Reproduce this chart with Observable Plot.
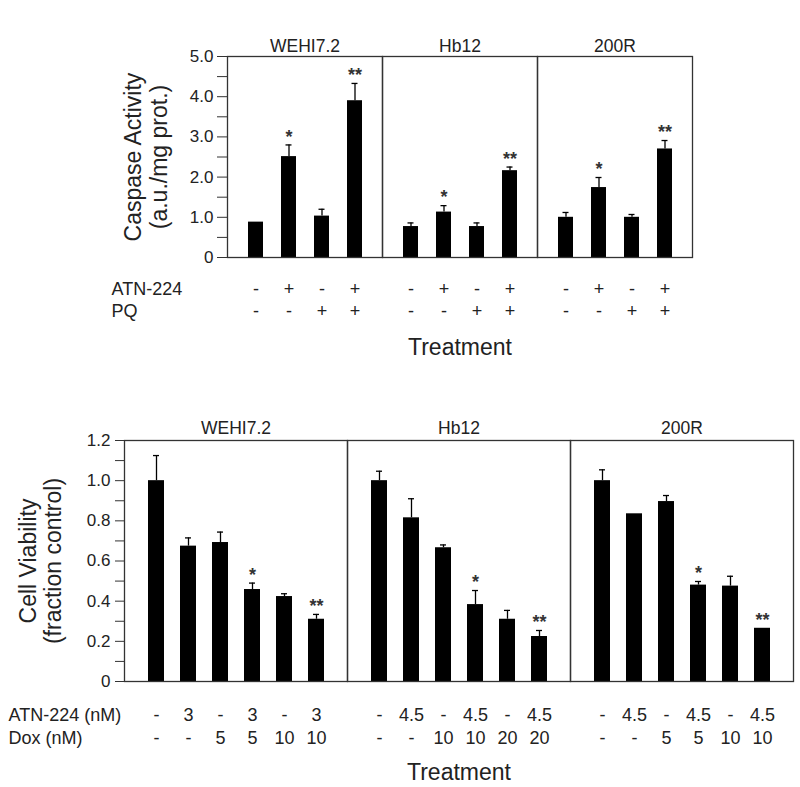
<!DOCTYPE html>
<html>
<head>
<meta charset="utf-8">
<script src="https://cdn.jsdelivr.net/npm/d3@7"></script>
<script src="https://cdn.jsdelivr.net/npm/@observablehq/plot@0.6"></script>
<style>
  html, body { margin: 0; padding: 0; background: #fff; }
  #wrap { position: relative; width: 800px; height: 787px; font-family: "Liberation Sans", Arial, sans-serif; color: #222; }
  .panel { position: absolute; left: 0; }
  .tag { position: absolute; font-size: 20px; }
</style>
</head>
<body>
<div id="wrap">
  <div class="tag" style="left:13px;top:5px;">A</div>
  <div class="tag" style="left:12px;top:381px;">B</div>
  <div id="pa" class="panel" style="top:0px;"></div>
  <div id="pb" class="panel" style="top:380px;"></div>
</div>
<script>
// ---------- Panel A data ----------
const cellsA = ["WEHI7.2", "Hb12", "200R"];
const caspaseWEHI = [0.88, 2.51, 1.03, 3.90];
const caspaseHb12 = [0.77, 1.13, 0.77, 2.16];
const caspase200R = [1.00, 1.74, 1.00, 2.70];
const caspaseErrWEHI = [0, 0.29, 0.17, 0.43];
const caspaseErrHb12 = [0.09, 0.16, 0.09, 0.09];
const caspaseErr200R = [0.12, 0.25, 0.07, 0.21];
const sigA = ["", "*", "", "**"];
const atnA = ["-", "+", "-", "+"];
const pqA = ["-", "-", "+", "+"];
const yTicksA = [0, 1, 2, 3, 4, 5];
const yMinorA = [0.5, 1.5, 2.5, 3.5, 4.5];

// ---------- Panel B data ----------
const cellsB = ["WEHI7.2", "Hb12", "200R"];
const viabWEHI = [1.00, 0.674, 0.692, 0.458, 0.423, 0.31];
const viabHb12 = [1.00, 0.815, 0.666, 0.383, 0.31, 0.224];
const viab200R = [1.00, 0.835, 0.896, 0.48, 0.475, 0.265];
const viabErrWEHI = [0.125, 0.041, 0.052, 0.032, 0.014, 0.024];
const viabErrHb12 = [0.047, 0.095, 0.014, 0.07, 0.044, 0.03];
const viabErr200R = [0.054, 0, 0.03, 0.018, 0.049, 0];
const sigB = ["", "", "", "*", "", "**"];
const atnWEHI = ["-", "3", "-", "3", "-", "3"];
const atnHb12 = ["-", "4.5", "-", "4.5", "-", "4.5"];
const atn200R = ["-", "4.5", "-", "4.5", "-", "4.5"];
const doxWEHI = ["-", "-", "5", "5", "10", "10"];
const doxHb12 = ["-", "-", "10", "10", "20", "20"];
const dox200R = ["-", "-", "5", "5", "10", "10"];
const yTicksB = [0, 0.2, 0.4, 0.6, 0.8, 1.0, 1.2];
const yMinorB = [0.1, 0.3, 0.5, 0.7, 0.9, 1.1];

const fmt = d => d === 0 ? "0" : d.toFixed(1);
const FONT = "'Liberation Sans', Arial, sans-serif";
const INK = "#222";

// build tables
const valsA = [caspaseWEHI, caspaseHb12, caspase200R];
const errsA = [caspaseErrWEHI, caspaseErrHb12, caspaseErr200R];
const rowsA = cellsA.flatMap((c, ci) => valsA[ci].map((v, i) => ({
  cell: c, idx: i, value: v, err: errsA[ci][i], sig: sigA[i], atn: atnA[i], pq: pqA[i]
})));

const valsB = [viabWEHI, viabHb12, viab200R];
const errsB = [viabErrWEHI, viabErrHb12, viabErr200R];
const atnB = [atnWEHI, atnHb12, atn200R];
const doxB = [doxWEHI, doxHb12, dox200R];
const rowsB = cellsB.flatMap((c, ci) => valsB[ci].map((v, i) => ({
  cell: c, idx: i, value: v, err: errsB[ci][i], sig: sigB[i], atn: atnB[ci][i], dox: doxB[ci][i]
})));

function panel(rows, cells, opts) {
  const first = [{cell: cells[0]}];
  const mid = [{cell: cells[1]}];
  return Plot.plot({
    width: 800,
    height: opts.height,
    marginTop: opts.mt, marginBottom: opts.mb, marginLeft: opts.ml, marginRight: opts.mr,
    fx: {domain: cells, padding: 0, axis: null},
    x: {domain: d3.range(opts.n), paddingInner: opts.pi, paddingOuter: opts.po, axis: null},
    y: {domain: opts.ydomain},
    style: {fontFamily: FONT, fontSize: "17px", color: INK, background: "#fff", overflow: "visible"},
    marks: [
      Plot.barY(rows, {fx: "cell", x: "idx", y: "value", fill: "#000"}),
      Plot.ruleX(rows.filter(d => d.err > 0), {fx: "cell", x: "idx", y1: "value", y2: d => d.value + d.err, stroke: "#000", strokeWidth: 1.3}),
      Plot.tickY(rows.filter(d => d.err > 0), {fx: "cell", x: "idx", y: d => d.value + d.err, stroke: "#000", strokeWidth: 1.3, insetLeft: opts.capInset, insetRight: opts.capInset}),
      Plot.text(rows.filter(d => d.sig), {fx: "cell", x: "idx", y: d => d.value + d.err, text: "sig", dy: -8, fontSize: 18, fontWeight: "bold", fill: "#333"}),
      Plot.frame({stroke: "#333", strokeWidth: 1.3}),
      Plot.axisY({ticks: opts.ticks, tickFormat: fmt, tickSize: opts.tickSize, tickPadding: opts.tickPad, label: null, stroke: "#333", fontSize: 17, fill: INK}),
      Plot.axisY({ticks: opts.minor, tickFormat: () => "", tickSize: opts.tickSize, label: null, stroke: "#333"}),
      // facet titles
      Plot.text(cells.map(c => ({cell: c})), {fx: "cell", text: "cell", frameAnchor: "top", lineAnchor: "middle", dy: opts.titleDy, fontSize: 17.5, fill: INK}),
      // y label
      Plot.text(first, {fx: "cell", text: () => opts.ylabel, frameAnchor: "left", textAnchor: "middle", lineAnchor: "middle", rotate: -90, dx: opts.ylabelDx, fontSize: opts.ylabelSize, lineHeight: opts.ylabelLH, fill: INK}),
      // treatment rows
      ...opts.rowsSpec.flatMap(r => [
        Plot.text(rows, {fx: "cell", x: "idx", text: r.key, frameAnchor: "bottom", lineAnchor: "middle", dy: r.dy, fontSize: 18, fill: INK}),
        Plot.text(first, {fx: "cell", text: () => r.title, frameAnchor: "bottom-left", textAnchor: "start", lineAnchor: "middle", dx: r.titleDx, dy: r.dy, fontSize: 18, fill: INK})
      ]),
      Plot.text(mid, {fx: "cell", text: () => "Treatment", frameAnchor: "bottom", lineAnchor: "middle", dy: opts.treatDy, fontSize: 23, fill: INK})
    ]
  });
}

document.getElementById("pa").appendChild(panel(rowsA, cellsA, {
  height: 380, mt: 56, mb: 123, ml: 226, mr: 107, n: 4, pi: 0.55, po: 0.59,
  ydomain: [0, 5], ticks: yTicksA, minor: yMinorA, tickSize: 10, tickPad: 4, capInset: 4.5,
  titleDy: -10, ylabel: "Caspase Activity\n(a.u./mg prot.)", ylabelDx: -82, ylabelSize: 23, ylabelLH: 1.13,
  rowsSpec: [
    {key: "atn", title: "ATN-224", dy: 32, titleDx: -116},
    {key: "pq", title: "PQ", dy: 54, titleDx: -116}
  ],
  treatDy: 90
}));

document.getElementById("pb").appendChild(panel(rowsB, cellsB, {
  height: 407, mt: 60, mb: 106, ml: 124, mr: 7, n: 6, pi: 0.515, po: 0.64,
  ydomain: [0, 1.2], ticks: yTicksB, minor: yMinorB, tickSize: 9, tickPad: 5, capInset: 5,
  titleDy: -12, ylabel: "Cell Viability\n(fraction control)", ylabelDx: -84, ylabelSize: 23, ylabelLH: 1.1,
  rowsSpec: [
    {key: "atn", title: "ATN-224 (nM)", dy: 34, titleDx: -116},
    {key: "dox", title: "Dox (nM)", dy: 57, titleDx: -116}
  ],
  treatDy: 91
}));
</script>
</body>
</html>
